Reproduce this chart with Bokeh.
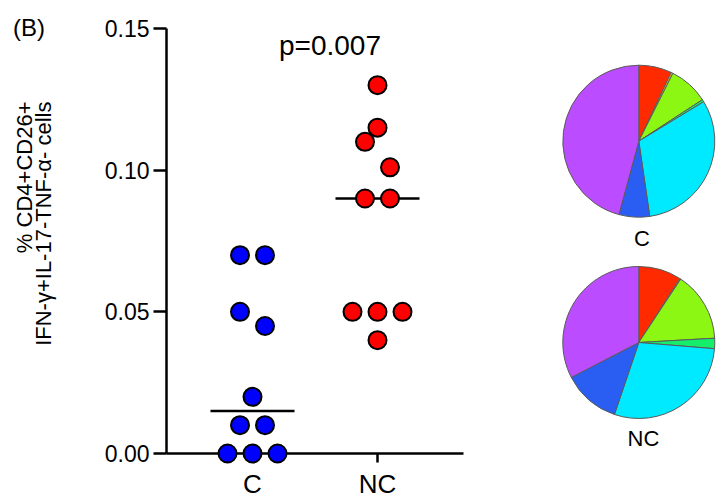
import numpy as np
from bokeh.plotting import figure
from bokeh.models import Range1d, FixedTicker, ColumnDataSource
from bokeh.embed import file_html
from bokeh.resources import INLINE
from bokeh.core.properties import value

# ---------------- data ----------------
groups = ["C", "NC"]
c_values = [0.07, 0.07, 0.05, 0.045, 0.02, 0.01, 0.01, 0.0, 0.0, 0.0]
nc_values = [0.13, 0.115, 0.11, 0.101, 0.09, 0.09, 0.05, 0.05, 0.05, 0.04]
p_text = "p=0.007"
panel_tag = "(B)"
y_ticks = [0.0, 0.05, 0.10, 0.15]
y_tick_labels = ["0.00", "0.05", "0.10", "0.15"]
y_label_lines = ["% CD4+CD26+", "IFN-\u03b3+IL-17-TNF-\u03b1- cells"]

pie_labels = ["C", "NC"]
c_share = [7.0, 0.4, 8.4, 0.5, 31.4, 6.5, 45.8]
nc_share = [9.1, 0.2, 14.8, 2.2, 28.9, 12.2, 32.6]
slice_colors = ["#ff2a00", "#ffb000", "#8cf712", "#14ee6a", "#00eaff", "#2a5ef2", "#bb4cff"]

FONT = "Liberation Sans"

# ---------------- geometry (canvas pixels) ----------------
FRAME_LEFT = 166.0
FRAME_TOP = 28.0
FRAME_W = 297
FRAME_H = 425
PX_PER_X = 125.0
X0 = 1 - (252.0 - FRAME_LEFT) / PX_PER_X
Y_MAX = 0.15
FRAME_BOTTOM = FRAME_TOP + FRAME_H
RIGHT_BORDER = 716 - int(FRAME_LEFT) - FRAME_W

p = figure(frame_width=FRAME_W, frame_height=FRAME_H,
           x_range=Range1d(X0, X0 + FRAME_W / PX_PER_X), y_range=Range1d(0, Y_MAX),
           output_backend="svg", toolbar_location=None,
           min_border_left=int(FRAME_LEFT), min_border_top=int(FRAME_TOP),
           min_border_right=RIGHT_BORDER, min_border_bottom=0)
p.grid.visible = False
p.outline_line_color = None
# pixel-based helper ranges for annotations and pies placed outside the frame
p.extra_x_ranges = {"px": Range1d(FRAME_LEFT, FRAME_LEFT + FRAME_W)}
p.extra_y_ranges = {"py": Range1d(-FRAME_BOTTOM, -FRAME_TOP)}

p.yaxis.ticker = FixedTicker(ticks=y_ticks)
p.yaxis.major_label_overrides = {tk: lb for tk, lb in zip(y_ticks, y_tick_labels)}
p.xaxis.ticker = FixedTicker(ticks=[1, 2])
p.xaxis.major_label_overrides = {i + 1: g for i, g in enumerate(groups)}
for ax in (p.xaxis, p.yaxis):
    ax.axis_line_width = 2.5
    ax.axis_line_color = "black"
    ax.major_tick_line_width = 2.5
    ax.major_tick_line_color = "black"
    ax.minor_tick_line_color = None
    ax.major_tick_in = 0
    ax.major_label_text_font = FONT
    ax.major_label_text_color = "black"
p.yaxis.major_tick_out = 13
p.yaxis.major_label_standoff = 4
p.yaxis.major_label_text_font_size = "23px"
p.xaxis.major_tick_out = 9
p.xaxis.major_label_standoff = 6
p.xaxis.major_label_text_font_size = "26px"

# beeswarm-like dodge: values binned, each bin's points spread side by side
BIN_W = 0.0135
BIN_ORIGIN = 0.004
DODGE = 25.0 / PX_PER_X


def swarm(vals):
    vals = np.asarray(vals, dtype=float)
    bins = np.floor((vals - BIN_ORIGIN) / BIN_W).astype(int)
    offs = np.zeros(len(vals))
    for b in np.unique(bins):
        idx = np.where(bins == b)[0]
        idx = idx[np.argsort(-vals[idx], kind="stable")]
        n = len(idx)
        for k, i in enumerate(idx):
            offs[i] = (k - (n - 1) / 2.0) * DODGE
    return offs


colors = ["#0000ff", "#ff0000"]
MED_HALF = 42.0 / PX_PER_X
for gi, (vals, col) in enumerate(zip([c_values, nc_values], colors)):
    xc = gi + 1
    med = float(np.median(vals))
    p.line([xc - MED_HALF, xc + MED_HALF], [med, med], line_color="black", line_width=2.5)
    src = ColumnDataSource(dict(x=xc + swarm(vals), y=vals))
    r = p.scatter("x", "y", source=src, size=18, fill_color=col, line_color="black", line_width=2)
    r.level = "overlay"


def add_text(px, py, txt, size, align="left", angle=0.0):
    r = p.text(x=[px], y=[-py], text=[txt], angle=angle, x_range_name="px", y_range_name="py",
               text_font=value(FONT), text_font_size=size, text_color="black",
               text_align=align, text_baseline="middle")
    r.level = "overlay"
    return r


add_text(329.5, 45, p_text, "28px", align="center")
add_text(12.5, 26.7, panel_tag, "24px")
for line_text, px in zip(y_label_lines, [24.0, 43.0]):
    add_text(px, 101, line_text, "22px", align="right", angle=np.pi / 2)

# ---------------- pies ----------------
pie_centers = [(638.3, 140.7), (638.3, 342.0)]
label_pos = [(641.5, 237.5), (643.0, 438.3)]
R = 76
for shares, (cx, cy), lab, (lx, ly) in zip([c_share, nc_share], pie_centers, pie_labels, label_pos):
    f = np.asarray(shares, dtype=float)
    f = f / f.sum()
    cum = np.concatenate([[0.0], np.cumsum(f)])
    src = ColumnDataSource(dict(start=np.pi / 2 - 2 * np.pi * cum[:-1],
                                end=np.pi / 2 - 2 * np.pi * cum[1:], color=slice_colors))
    w = p.wedge(x=cx, y=-cy, radius=R, start_angle="start", end_angle="end", direction="clock",
                fill_color="color", line_color="#5a5a5a", line_width=1, source=src,
                x_range_name="px", y_range_name="py")
    w.level = "overlay"
    add_text(lx, ly, lab, "22px", align="center")

open("out.html", "w").write(file_html(p, INLINE))
